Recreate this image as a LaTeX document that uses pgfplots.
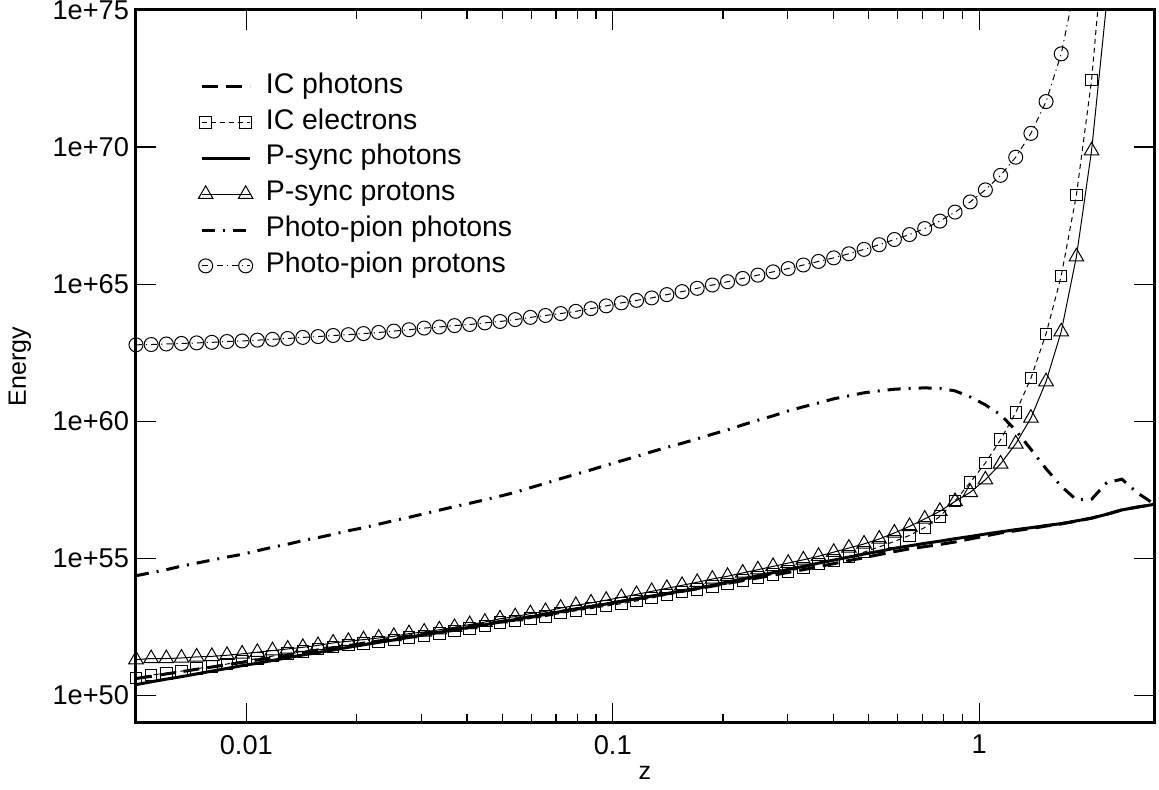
\documentclass[border=0pt]{standalone}
\usepackage{pgfplots}
\pgfplotsset{compat=1.18}
\usepackage{pgfplotstable}
\usepackage{fontspec}
\setmainfont{Liberation Sans}

\pgfplotstableread{
z        icph   icel   psph   pspr   ppph   pppr
0.005     50.62  50.64  50.40  51.31  54.37  62.79
0.0055    50.70  50.75  50.50  51.35  54.48  62.80
0.00605   50.79  50.81  50.60  51.35  54.59  62.82
0.006655  50.87  50.89  50.69  51.37  54.72  62.84
0.0073205 50.96  50.98  50.79  51.41  54.83  62.86
0.0080526 51.04  51.06  50.89  51.43  54.94  62.88
0.0088578 51.13  51.15  50.99  51.47  55.05  62.91
0.0097436 51.21  51.25  51.09  51.52  55.15  62.93
0.010718  51.30  51.35  51.18  51.58  55.28  62.96
0.01179   51.38  51.44  51.28  51.64  55.41  62.99
0.012969  51.47  51.53  51.38  51.70  55.52  63.02
0.014266  51.55  51.61  51.48  51.76  55.65  63.06
0.015692  51.64  51.70  51.57  51.83  55.76  63.09
0.017261  51.73  51.78  51.66  51.92  55.88  63.13
0.018987  51.82  51.84  51.76  51.98  56.01  63.16
0.020886  51.91  51.90  51.85  52.04  56.12  63.20
0.022975  51.99  51.96  51.94  52.10  56.25  63.24
0.025272  52.08  52.02  52.03  52.16  56.38  63.29
0.0278    52.17  52.12  52.12  52.26  56.50  63.34
0.03058   52.26  52.18  52.22  52.32  56.63  63.40
0.033637  52.35  52.26  52.31  52.40  56.76  63.44
0.037001  52.44  52.35  52.40  52.49  56.89  63.49
0.040701  52.53  52.45  52.49  52.59  57.01  63.53
0.044772  52.61  52.54  52.58  52.68  57.14  63.59
0.049249  52.70  52.66  52.68  52.80  57.27  63.64
0.054174  52.79  52.71  52.77  52.88  57.41  63.71
0.059591  52.88  52.81  52.87  52.99  57.58  63.79
0.06555   52.98  52.88  52.96  53.07  57.74  63.86
0.072105  53.07  53.00  53.06  53.19  57.91  63.93
0.079316  53.16  53.09  53.15  53.29  58.07  64.01
0.087247  53.25  53.17  53.25  53.38  58.23  64.11
0.095972  53.34  53.26  53.34  53.48  58.40  64.21
0.10557   53.43  53.35  53.44  53.58  58.56  64.32
0.11613   53.53  53.45  53.53  53.69  58.72  64.41
0.12774   53.62  53.56  53.63  53.80  58.89  64.50
0.14051   53.71  53.66  53.72  53.91  59.05  64.62
0.15456   53.80  53.77  53.82  54.02  59.20  64.73
0.17002   53.89  53.87  53.91  54.13  59.36  64.85
0.18702   53.99  53.98  54.02  54.25  59.53  64.97
0.20572   54.09  54.07  54.14  54.35  59.69  65.09
0.2263    54.19  54.19  54.25  54.47  59.87  65.21
0.24893   54.29  54.30  54.37  54.59  60.04  65.33
0.27382   54.39  54.42  54.48  54.71  60.20  65.45
0.3012    54.49  54.53  54.60  54.83  60.38  65.57
0.33132   54.59  54.65  54.71  54.95  60.53  65.70
0.36445   54.70  54.80  54.83  55.08  60.67  65.83
0.4009    54.81  54.93  54.94  55.23  60.82  65.96
0.44099   54.92  55.07  55.05  55.38  60.93  66.11
0.48509   55.03  55.23  55.16  55.53  61.04  66.27
0.53359   55.14  55.42  55.26  55.71  61.11  66.44
0.58695   55.25  55.62  55.37  55.93  61.17  66.63
0.64565   55.35  55.84  55.46  56.17  61.20  66.81
0.71021   55.43  56.13  55.55  56.44  61.22  67.03
0.78124   55.51  56.53  55.63  56.72  61.20  67.30
0.85936   55.60  57.10  55.72  57.08  61.11  67.63
0.9453    55.71  57.77  55.80  57.41  60.89  68.00
1.0398    55.82  58.48  55.89  57.87  60.60  68.44
1.1438    55.93  59.33  55.97  58.45  60.24  68.97
1.2582    56.01  60.32  56.05  59.18  59.67  69.63
1.384     56.09  61.57  56.12  60.12  58.98  70.50
1.5224    56.18  63.19  56.20  61.45  58.27  71.66
1.6746    56.26  65.30  56.27  63.27  57.63  73.40
1.8421    56.36  68.25  56.37  66.00  57.14  76.10
2.0263    56.47  72.44  56.47  69.87  57.16  nan
2.229     56.61  78.70  56.61  75.30  57.76  nan
2.4519    56.77  nan    56.77  nan    57.89  nan
2.6965    56.87  nan    56.87  nan    57.40  nan
2.9667    56.96  nan    56.96  nan    57.03  nan
3.0       56.98  nan    56.98  nan    57.01  nan
}\data

\begin{document}
\begin{tikzpicture}
\begin{axis}[
  xmode=log, ymode=log,
  scale only axis, width=509pt, height=356.5pt,
  xmin=0.005, xmax=3, ymin=1e49, ymax=1e75,
  xtick={0.01,0.1,1}, xticklabels={0.01,0.1,1},
  ytick={1e50,1e55,1e60,1e65,1e70,1e75},
  yticklabels={1e+50,1e+55,1e+60,1e+65,1e+70,1e+75},
  yminorticks=false,
  tick align=inside,
  major tick length=10pt, minor tick length=4.5pt,
  every major tick/.append style={line width=0.6pt, black},
  every minor tick/.append style={line width=0.6pt, black},
  axis line style={line width=1.5pt},
  /pgf/number format/assume math mode=true,
  tick label style={font=\fontsize{13.6}{16}\selectfont},
  xticklabel style={yshift=-2.5pt},
  xlabel={z}, ylabel={Energy},
  label style={font=\fontsize{12.5}{15}\selectfont},
  xlabel style={at={([yshift=-25pt]axis description cs:0.5,0)}, anchor=center},
  ylabel style={at={([xshift=-58pt]axis description cs:0,0.5)}, anchor=center, rotate=0},
  legend image code/.code={
    \draw[#1] (0pt,0pt) -- (24pt,0pt);
    \draw[#1,mark repeat=2,mark phase=1] plot[only marks] coordinates {(2pt,0pt) (12pt,0pt) (22pt,0pt)};
  },
  legend style={draw=none, fill=none, font=\fontsize{14.2}{16}\selectfont,
    at={(axis description cs:0,1)}, anchor=north west, xshift=28pt, yshift=-27.5pt,
    row sep=0.4pt, nodes={inner sep=2pt, text height=10pt, text depth=3.5pt},
    /tikz/every odd column/.append style={column sep=4.5pt}},
  legend cell align=left,
]
\addplot[black, line width=1.5pt, dash pattern=on 8pt off 4pt]
  table[x=z, y expr=10^(\thisrow{icph})] {\data};
\addlegendentry{IC photons}
\addplot[black, line width=0.5pt, dash pattern=on 2.5pt off 2pt, mark=square, mark size=2.85pt, mark options={solid, line width=0.5pt}]
  table[x=z, y expr=10^(\thisrow{icel})] {\data};
\addlegendentry{IC electrons}
\addplot[black, line width=1.5pt]
  table[x=z, y expr=10^(\thisrow{psph})] {\data};
\addlegendentry{P-sync photons}
\addplot[black, line width=0.5pt, mark=triangle, mark size=4.2pt, mark options={solid, line width=0.5pt}]
  table[x=z, y expr=10^(\thisrow{pspr})] {\data};
\addlegendentry{P-sync protons}
\addplot[black, line width=1.5pt, dash pattern=on 6.5pt off 4pt on 1pt off 4pt]
  table[x=z, y expr=10^(\thisrow{ppph})] {\data};
\addlegendentry{Photo-pion photons}
\addplot[black, line width=0.5pt, dash pattern=on 3pt off 2pt on 0.6pt off 2pt, mark=o, mark size=3.5pt, mark options={solid, line width=0.5pt}]
  table[x=z, y expr=10^(\thisrow{pppr})] {\data};
\addlegendentry{Photo-pion protons}
\end{axis}
\pgfresetboundingbox
\path[use as bounding box] (current axis.south west) ++(-68pt,-33.5pt) rectangle ++(579.5pt,395pt);
\end{tikzpicture}
\end{document}
